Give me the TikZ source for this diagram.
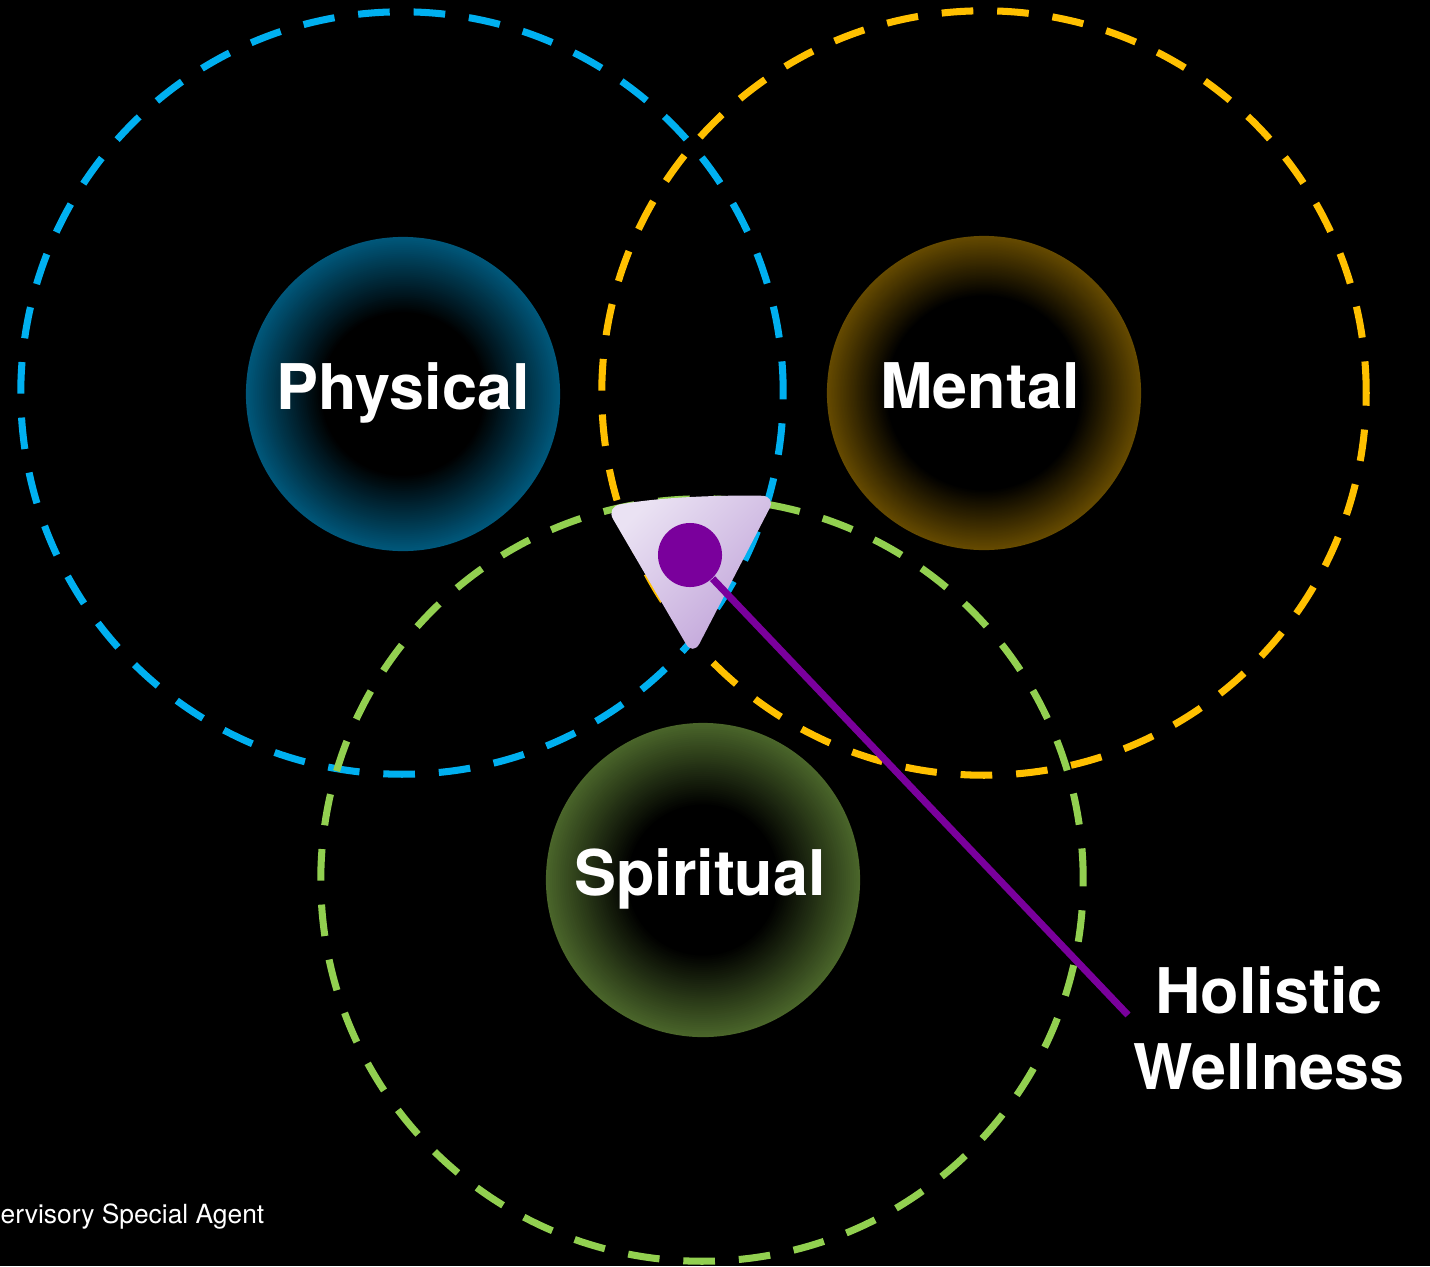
\documentclass[tikz,border=0pt]{standalone}
\usepackage{fontspec}
\setmainfont{TeX Gyre Heros}
\usetikzlibrary{positioning, calc}
\definecolor{hwblue}{HTML}{00B0F0}
\definecolor{hwgold}{HTML}{FFC000}
\definecolor{hwgreen}{HTML}{92D050}
\definecolor{hwblueglow}{HTML}{00577A}
\definecolor{hwgoldglow}{HTML}{654A00}
\definecolor{hwgreenglow}{HTML}{4A652A}
\definecolor{hwpurple}{HTML}{7A009C}
\definecolor{hwlavlight}{HTML}{EAE2F3}
\definecolor{hwlavdark}{HTML}{BFA1D8}

\begin{document}
\begin{tikzpicture}[
  x=0.01cm, y=-0.01cm,
  ring/.style={line width=2pt, dash pattern=on 9pt off 6.8pt},
  glow/.style={circle, minimum size=3.14cm, inner sep=0pt, text=white, text height=13.4pt, text depth=4.5pt, font=\fontsize{17.9}{21.6}\selectfont\bfseries},
]
\fill[black] (0,0) rectangle (1430,1266);
\useasboundingbox (0,0) rectangle (1430,1266);

% outer dashed rings
\draw[ring, hwblue] (402,393) circle[radius=3.81cm];
\draw[ring, hwgold] (984,393) circle[radius=3.82cm];
\draw[ring, hwgreen] (702,880) circle[radius=3.81cm];

% inner glowing discs, rim colour fading to a black core
\foreach \cx/\cy/\col/\core in {403/394/hwblueglow/0.52, 984/393/hwgoldglow/0.62, 703/880/hwgreenglow/0.48}{
  \foreach \k in {0,...,40}{
    \pgfmathsetmacro\rad{1.57*(1-(1-\core)*\k/40)}
    \pgfmathsetmacro\pct{100-2.5*\k}
    \fill[\col!\pct!black] (\cx,\cy) circle[radius=\rad cm];
  }
}
\node[glow] (physical) at (403,394) {Physical};
\node[glow, xshift=-0.04cm] (mental) at (984,393) {Mental};
\node[glow, xshift=-0.03cm] (spiritual) at (703,880) {Spiritual};

% overlap marker
\shade[top color=hwlavlight, bottom color=hwlavdark, shading angle=45, rounded corners=4pt]
  (606,507) .. controls (660,497) and (720,495) .. (776,496) -- (693,656) -- cycle;
\node[circle, fill=hwpurple, minimum size=0.64cm, inner sep=0pt] (hub) at (690,555) {};
\coordinate (tip) at (1128,1015);
\draw[hwpurple, line width=2pt] (hub) -- (tip);

\node[align=center, text=white, font=\fontsize{17.9}{21.6}\selectfont\bfseries] (holistic) at (1269,1028) {Holistic\\Wellness};
\node[anchor=base west, inner sep=0pt, text=white, font=\fontsize{7.5}{9}\selectfont] (agent) at (0,1223) {ervisory Special Agent};
\end{tikzpicture}
\end{document}
